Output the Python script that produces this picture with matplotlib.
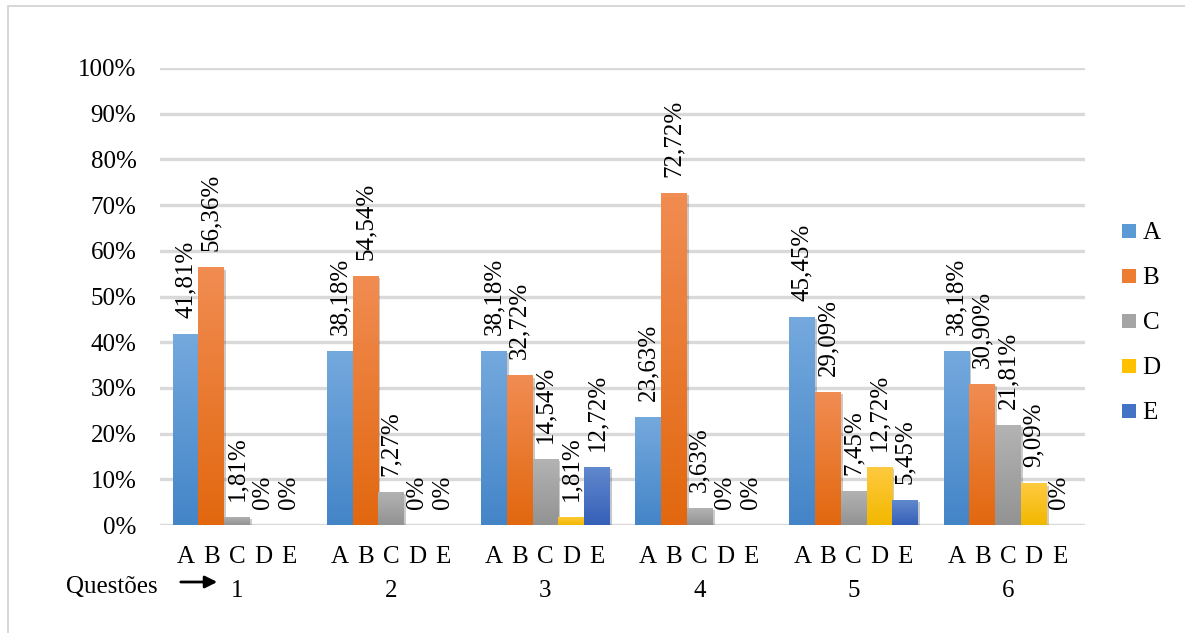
import numpy as np
import matplotlib
matplotlib.use("Agg")
import matplotlib.pyplot as plt
from matplotlib import patheffects
from matplotlib.colors import LinearSegmentedColormap
from matplotlib.lines import Line2D
from matplotlib.patches import Rectangle, FancyArrowPatch

plt.rcParams['font.family'] = ['Liberation Serif', 'DejaVu Serif']

# Answer share (%) per option, one value per question
questions = ['1', '2', '3', '4', '5', '6']
options = ['A', 'B', 'C', 'D', 'E']
pct_A = [41.81, 38.18, 38.18, 23.63, 45.45, 38.18]
pct_B = [56.36, 54.54, 32.72, 72.72, 29.09, 30.90]
pct_C = [1.81, 7.27, 14.54, 3.63, 7.45, 21.81]
pct_D = [0, 0, 1.81, 0, 12.72, 9.09]
pct_E = [0, 0, 12.72, 0, 5.45, 0]
series = [pct_A, pct_B, pct_C, pct_D, pct_E]
y_ticks = [0, 10, 20, 30, 40, 50, 60, 70, 80, 90, 100]

# (top, bottom) gradient colours of each series
grad = [('#74a9dd', '#4485c8'),
        ('#f18c52', '#e2680f'),
        ('#b3b3b3', '#939393'),
        ('#ffca3f', '#f2b800'),
        ('#6189ce', '#3660b8')]
base = ['#5b9bd5', '#ed7d31', '#a5a5a5', '#ffc000', '#4472c4']

W, H = 1185, 633
fig = plt.figure(figsize=(W / 100, H / 100), dpi=100)
ax = fig.add_axes([160 / W, 1 - 525 / H, 925 / W, (525 - 68) / H])

n = len(options)
bw = 0.167
x = np.arange(len(questions))
fs = 18
px = 72 / 100  # points per pixel

for j, vals in enumerate(series):
    xs = x + (j - (n - 1) / 2) * bw
    bars = ax.bar(xs, vals, width=bw, color=base[j], linewidth=0, zorder=3,
                  path_effects=[patheffects.SimplePatchShadow(offset=(1.5, -1.5), alpha=0.25),
                                patheffects.Normal()])
    cmap = LinearSegmentedColormap.from_list('g%d' % j, [grad[j][1], grad[j][0]])
    for rect, v, xc in zip(bars, vals, xs):
        if v > 0:
            img = ax.imshow(np.linspace(0, 1, 64).reshape(-1, 1), cmap=cmap, origin='lower',
                            extent=(xc - bw / 2, xc + bw / 2, 0, v), aspect='auto', zorder=4)
            img.set_clip_path(rect)
        lab = '0%' if v == 0 else ('%.2f' % v).replace('.', ',') + '%'
        ax.annotate(lab, (xc, v), xytext=(0, 11.5), textcoords='offset points',
                    rotation=90, ha='center', va='bottom', fontsize=fs, zorder=5)
        # option letter under the bar
        ax.annotate(options[j], (xc, 0), xytext=(0, -32 * px), textcoords='offset points',
                    ha='center', va='center', fontsize=fs, annotation_clip=False)

ax.set_xlim(-0.5, len(questions) - 0.5)
ax.set_ylim(0, 100)
ax.set_yticks(y_ticks)
ax.set_yticklabels(['%d%%' % t for t in y_ticks], fontsize=fs)
ax.tick_params(axis='y', length=0, pad=17)
ax.set_xticks([])
ax.yaxis.grid(True, color='#d9d9d9', linewidth=2.4, zorder=0)
ax.set_axisbelow(True)
for s in ax.spines.values():
    s.set_visible(False)

# question numbers
for xc, q in zip(x, questions):
    ax.annotate(q, (xc, 0), xytext=(0, -66 * px), textcoords='offset points',
                ha='center', va='center', fontsize=fs, annotation_clip=False)

fig.text(112 / W, 1 - 587 / H, 'Questões', ha='center', va='center', fontsize=fs)
fig.add_artist(FancyArrowPatch((178 / W, 1 - 582 / H), (220 / W, 1 - 582 / H),
                               transform=fig.transFigure, arrowstyle='-|>',
                               mutation_scale=18, lw=2, color='black'))

handles = [Line2D([], [], marker='s', linestyle='none', markersize=10,
                  markerfacecolor=base[j], markeredgewidth=0) for j in range(n)]
fig.legend(handles, options, loc='center left', bbox_to_anchor=(1110 / W, 1 - 323 / H),
           frameon=False, fontsize=fs, handlelength=0.7, handletextpad=0.2,
           labelspacing=0.9, borderaxespad=0)

# outer chart frame
fig.add_artist(Rectangle((7.5 / W, -0.1), 1.2, 1.1 - 5.5 / H, transform=fig.transFigure,
                         fill=False, edgecolor='#d4d4d4', linewidth=1.3))

fig.savefig('out.png', dpi=100)
